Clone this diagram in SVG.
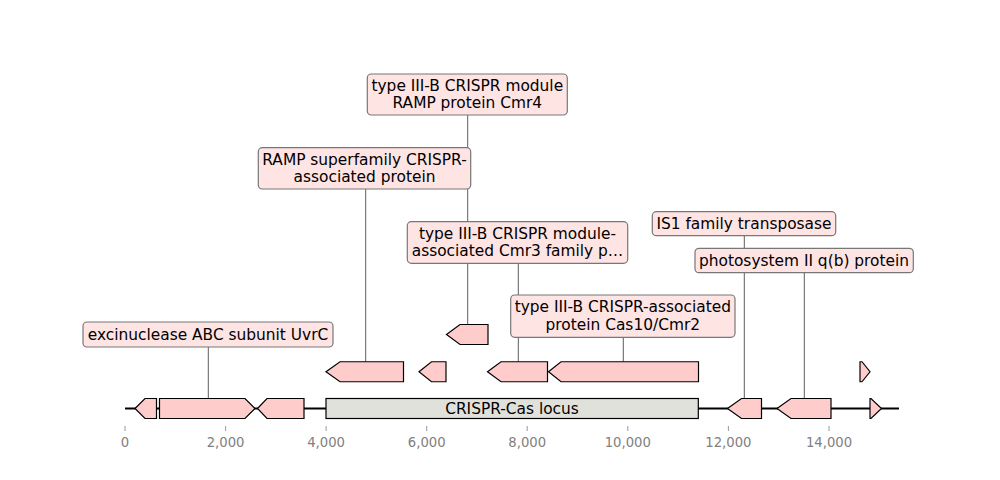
<svg xmlns="http://www.w3.org/2000/svg" width="1000" height="480" viewBox="0 0 1000 480">
<style>
.gene{fill:#ffcccc;stroke:#000;stroke-width:1.2}
.lbl rect{fill:#ffe4e4;stroke:#777;stroke-width:1.2}
text{font-family:"DejaVu Sans",sans-serif;fill:#000}
.lbl text{font-size:15.4px;text-anchor:middle;dominant-baseline:central}
.tick{stroke:#808080;stroke-width:0.8}
.ticklbl{font-size:13.2px;fill:#808080;text-anchor:middle}
.conn line{stroke:#333;stroke-width:0.8}
</style>
<rect width="1000" height="480" fill="#fff"/>
<g id="connectors" class="conn">
<line x1="208.3" y1="347" x2="208.3" y2="398.5"/>
<line x1="365.7" y1="189" x2="365.7" y2="361.75"/>
<line x1="467.7" y1="115" x2="467.7" y2="324.5"/>
<line x1="518.3" y1="263" x2="518.3" y2="361.75"/>
<line x1="623.3" y1="337" x2="623.3" y2="361.75"/>
<line x1="744.3" y1="235.5" x2="744.3" y2="398.5"/>
<line x1="804.3" y1="272.5" x2="804.3" y2="398.5"/>
</g>
<g id="axis">
<line x1="125" y1="408.5" x2="899" y2="408.5" stroke="#000" stroke-width="1.8"/>
<line class="tick" x1="125" y1="426" x2="125" y2="431"/>
<line class="tick" x1="225.6" y1="426" x2="225.6" y2="431"/>
<line class="tick" x1="326.1" y1="426" x2="326.1" y2="431"/>
<line class="tick" x1="426.7" y1="426" x2="426.7" y2="431"/>
<line class="tick" x1="527.2" y1="426" x2="527.2" y2="431"/>
<line class="tick" x1="627.8" y1="426" x2="627.8" y2="431"/>
<line class="tick" x1="728.4" y1="426" x2="728.4" y2="431"/>
<line class="tick" x1="829" y1="426" x2="829" y2="431"/>
<text class="ticklbl" x="125" y="447">0</text>
<text class="ticklbl" x="225.6" y="447">2,000</text>
<text class="ticklbl" x="326.1" y="447">4,000</text>
<text class="ticklbl" x="426.7" y="447">6,000</text>
<text class="ticklbl" x="527.2" y="447">8,000</text>
<text class="ticklbl" x="627.8" y="447">10,000</text>
<text class="ticklbl" x="728.4" y="447">12,000</text>
<text class="ticklbl" x="829" y="447">14,000</text>
</g>
<g id="genes">
<polygon id="g1" class="gene" points="135,408.5 145,398.5 156.5,398.5 156.5,418.5 145,418.5"/>
<polygon id="g2" class="gene" points="159.5,398.5 245,398.5 255,408.5 245,418.5 159.5,418.5"/>
<polygon id="g3" class="gene" points="257.5,408.5 267,398.5 304,398.5 304,418.5 267,418.5"/>
<g id="crispr">
<rect x="326" y="398.5" width="372.3" height="20" fill="#e1e1dc" stroke="#000" stroke-width="1.2"/>
<text x="512" y="408.5" font-size="15.4" text-anchor="middle" dominant-baseline="central">CRISPR-Cas locus</text>
</g>
<polygon id="g4" class="gene" points="727.5,408.5 741.5,398.5 761.5,398.5 761.5,418.5 741.5,418.5"/>
<polygon id="g5" class="gene" points="777,408.5 791,398.5 831,398.5 831,418.5 791,418.5"/>
<polygon id="g6" class="gene" points="870,398.5 871,398.5 881.5,408.5 871,418.5 870,418.5"/>
<polygon id="u1" class="gene" points="326,371.75 340,361.75 403.5,361.75 403.5,381.75 340,381.75"/>
<polygon id="u2" class="gene" points="419,371.75 431.5,361.75 446,361.75 446,381.75 431.5,381.75"/>
<polygon id="u3" class="gene" points="487.5,371.75 501,361.75 547.5,361.75 547.5,381.75 501,381.75"/>
<polygon id="u4" class="gene" points="548.5,371.75 561,361.75 698.5,361.75 698.5,381.75 561,381.75"/>
<polygon id="u5" class="gene" points="860,361.75 862,361.75 870,371.75 862,381.75 860,381.75"/>
<polygon id="r1" class="gene" points="446.5,334.5 460,324.5 488,324.5 488,344.5 460,344.5"/>
</g>
<g id="label-uvrc" class="lbl">
<rect x="83" y="322" width="250" height="25" rx="4"/>
<text x="208" y="334.5">excinuclease ABC subunit UvrC</text>
</g>
<g id="label-ramp" class="lbl">
<rect x="258.3" y="147.7" width="212.4" height="41.3" rx="4"/>
<text x="364.5" y="159.5">RAMP superfamily CRISPR-</text>
<text x="364.5" y="177">associated protein</text>
</g>
<g id="label-cmr4" class="lbl">
<rect x="367.3" y="74" width="200" height="41" rx="4"/>
<text x="467.3" y="85.5">type III-B CRISPR module</text>
<text x="467.3" y="103">RAMP protein Cmr4</text>
</g>
<g id="label-cmr3" class="lbl">
<rect x="407.3" y="221.7" width="220.4" height="41.6" rx="4"/>
<text x="517.5" y="233.5">type III-B CRISPR module-</text>
<text x="517.5" y="251">associated Cmr3 family p…</text>
</g>
<g id="label-is1" class="lbl">
<rect x="652.3" y="211.7" width="183.4" height="24" rx="4"/>
<text x="744" y="223.7">IS1 family transposase</text>
</g>
<g id="label-psii" class="lbl">
<rect x="695" y="248.3" width="218.3" height="24.4" rx="4"/>
<text x="804" y="260.5">photosystem II q(b) protein</text>
</g>
<g id="label-cas10" class="lbl">
<rect x="510.7" y="295" width="224.3" height="42.3" rx="4"/>
<text x="622.8" y="307">type III-B CRISPR-associated</text>
<text x="622.8" y="324.5">protein Cas10/Cmr2</text>
</g>
</svg>
